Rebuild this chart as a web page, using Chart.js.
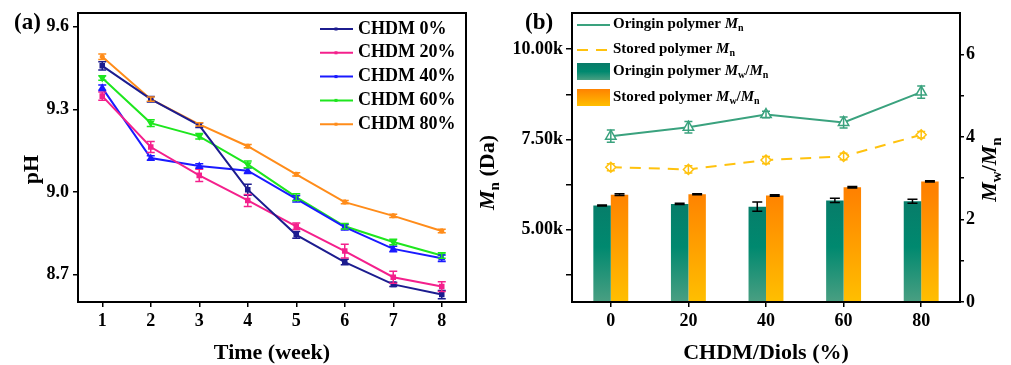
<!DOCTYPE html>
<html>
<head>
<meta charset="utf-8">
<script src="https://cdn.jsdelivr.net/npm/chart.js@4.4.0/dist/chart.umd.min.js"></script>
<style>
html, body { margin: 0; padding: 0; background: #fff; }
#wrap { position: relative; width: 1011px; height: 365px; }
#chartA { position: absolute; left: 0; top: 0; }
#chartB { position: absolute; left: 470px; top: 0; }
</style>
</head>
<body>
<div id="wrap">
  <canvas id="chartA" width="500" height="365"></canvas>
  <canvas id="chartB" width="541" height="365"></canvas>
</div>
<script>
// ---- panel (a): pH vs time ----
const weeks = ['1', '2', '3', '4', '5', '6', '7', '8'];
const phTicks = [8.7, 9.0, 9.3, 9.6];
const ph0 = [9.458, 9.337, 9.242, 9.008, 8.844, 8.745, 8.664, 8.627];
const ph20 = [9.348, 9.163, 9.060, 8.969, 8.875, 8.785, 8.690, 8.656];
const ph40 = [9.378, 9.123, 9.094, 9.077, 8.975, 8.872, 8.793, 8.759];
const ph60 = [9.414, 9.250, 9.202, 9.100, 8.981, 8.875, 8.818, 8.769];
const ph80 = [9.491, 9.337, 9.245, 9.166, 9.064, 8.963, 8.913, 8.858];
const err0 = [0.015, 0.010, 0.008, 0.020, 0.012, 0.010, 0.008, 0.015];
const err20 = [0.015, 0.020, 0.022, 0.022, 0.012, 0.025, 0.022, 0.018];
const err40 = [0.010, 0.008, 0.008, 0.010, 0.012, 0.010, 0.010, 0.012];
const err60 = [0.008, 0.012, 0.010, 0.012, 0.012, 0.010, 0.010, 0.010];
const err80 = [0.010, 0.008, 0.006, 0.006, 0.006, 0.006, 0.006, 0.006];

// ---- panel (b): molecular weight ----
const ratios = ['0', '20', '40', '60', '80'];
const mnTicks = [3750, 5000, 6250, 7500, 8750, 10000];
const pdiTicks = [0, 1, 2, 3, 4, 5, 6];
const mnOrigin = [7590, 7840, 8190, 7970, 8810];
const mnOriginErr = [170, 160, 90, 150, 170];
const mnStored = [6730, 6670, 6930, 7030, 7630];
const mnStoredErr = [100, 100, 100, 90, 90];
const pdiOrigin = [2.34, 2.376, 2.31, 2.46, 2.44];
const pdiOriginErr = [0.012, 0.015, 0.11, 0.05, 0.05];
const pdiStored = [2.60, 2.61, 2.58, 2.78, 2.92];
const pdiStoredErr = [0.02, 0.015, 0.02, 0.02, 0.015];

const SERIF = "'Liberation Serif', 'Times New Roman', serif";
const tickFont = { family: SERIF, size: 18, weight: 'bold' };

function fixSize(prop, val) {
    return function (s) {
        s[prop] = val;
        s.paddingLeft = 0; s.paddingRight = 0; s.paddingTop = 0; s.paddingBottom = 0;
    };
}

function drawRich(ctx, parts, x, y, size, align) {
    const fontOf = k => k === 'i' ? `italic bold ${size}px ${SERIF}`
        : k === 's' ? `bold ${Math.round(size * 0.68)}px ${SERIF}` : `bold ${size}px ${SERIF}`;
    let total = 0;
    parts.forEach(p => { ctx.font = fontOf(p[1]); total += ctx.measureText(p[0]).width; });
    let cx = align === 'center' ? x - total / 2 : x;
    ctx.textAlign = 'left';
    ctx.textBaseline = 'middle';
    ctx.fillStyle = '#000';
    parts.forEach(p => {
        ctx.font = fontOf(p[1]);
        ctx.fillText(p[0], cx, p[1] === 's' ? y + size * 0.32 : y);
        cx += ctx.measureText(p[0]).width;
    });
}

function drawErrors(chart) {
    const ctx = chart.ctx;
    chart.data.datasets.forEach((ds, i) => {
        if (!ds.err) return;
        const meta = chart.getDatasetMeta(i);
        const scale = chart.scales[meta.yAxisID];
        ctx.save();
        ctx.strokeStyle = ds.errColor || ds.borderColor;
        ctx.lineWidth = 1.5;
        const cap = ds.cap || 4;
        meta.data.forEach((el, j) => {
            const v = ds.data[j];
            const y1 = scale.getPixelForValue(v - ds.err[j]);
            const y2 = scale.getPixelForValue(v + ds.err[j]);
            ctx.beginPath();
            ctx.moveTo(el.x, y1); ctx.lineTo(el.x, y2);
            ctx.moveTo(el.x - cap, y1); ctx.lineTo(el.x + cap, y1);
            ctx.moveTo(el.x - cap, y2); ctx.lineTo(el.x + cap, y2);
            ctx.stroke();
        });
        ctx.restore();
    });
}

function frame(chart) {
    const a = chart.chartArea;
    const ctx = chart.ctx;
    ctx.save();
    ctx.strokeStyle = '#000';
    ctx.lineWidth = 2;
    ctx.strokeRect(a.left, a.top, a.right - a.left, a.bottom - a.top);
    ctx.restore();
}

function lineSet(label, data, err, color, style, rot) {
    return {
        label: label, data: data, err: err,
        borderColor: color, backgroundColor: color,
        borderWidth: 2, pointRadius: 2.5, pointStyle: style, pointRotation: rot || 0,
        lineTension: 0
    };
}

const axisA = {
    grid: { display: true, drawOnChartArea: false, drawTicks: true, tickLength: 5, color: '#000', lineWidth: 1.5 },
    border: { display: false },
    ticks: { color: '#000', font: tickFont }
};

new Chart(document.getElementById('chartA').getContext('2d'), {
    type: 'line',
    data: {
        labels: weeks,
        datasets: [
            lineSet('CHDM 0%', ph0, err0, '#1c1c8f', 'rect'),
            lineSet('CHDM 20%', ph20, err20, '#f4208c', 'rect'),
            lineSet('CHDM 40%', ph40, err40, '#1a1aff', 'triangle'),
            lineSet('CHDM 60%', ph60, err60, '#1ee61e', 'triangle', 180),
            lineSet('CHDM 80%', ph80, err80, '#ff8c1a', 'star')
        ]
    },
    options: {
        responsive: false,
        animation: false,
        layout: { padding: { left: 0, top: 13, right: 34, bottom: 0 } },
        plugins: { legend: { display: false }, tooltip: { enabled: false } },
        scales: {
            x: Object.assign({}, axisA, {
                offset: true,
                ticks: { color: '#000', font: tickFont, padding: 4, maxRotation: 0 },
                afterFit: fixSize('height', 63)
            }),
            y: Object.assign({}, axisA, {
                min: 8.6, max: 9.65,
                afterBuildTicks: s => { s.ticks = phTicks.map(v => ({ value: v })); },
                ticks: { color: '#000', font: tickFont, padding: 4, callback: v => v.toFixed(1) },
                afterFit: fixSize('width', 78)
            })
        }
    },
    plugins: [{
        id: 'decorA',
        afterDatasetsDraw(chart) {
            drawErrors(chart);
            frame(chart);
            const ctx = chart.ctx;
            const a = chart.chartArea;
            chart.data.datasets.forEach((ds, i) => {
                const y = 29 + i * 23.8;
                ctx.save();
                ctx.strokeStyle = ds.borderColor;
                ctx.lineWidth = 2;
                ctx.beginPath(); ctx.moveTo(320, y); ctx.lineTo(353, y); ctx.stroke();
                ctx.fillStyle = ds.borderColor;
                ctx.fillRect(334.5, y - 1.5, 3, 3);
                ctx.restore();
                drawRich(ctx, [[ds.label, 'b']], 358, y, 18);
            });
            drawRich(ctx, [['(a)', 'b']], 14, 23, 23);
            drawRich(ctx, [['Time (week)', 'b']], (a.left + a.right) / 2, 353, 22, 'center');
            ctx.save();
            ctx.translate(32, (a.top + a.bottom) / 2 + 12);
            ctx.rotate(-Math.PI / 2);
            drawRich(ctx, [['pH', 'b']], 0, 0, 22, 'center');
            ctx.restore();
        }
    }]
});

// ---- panel (b) ----
function gradientFill(chart, bottomColor, midColor, topColor) {
    const a = chart.chartArea;
    if (!a) return topColor;
    const g = chart.ctx.createLinearGradient(0, a.bottom, 0, a.bottom - 110);
    g.addColorStop(0, bottomColor);
    g.addColorStop(0.5, midColor);
    g.addColorStop(1, topColor);
    return g;
}
const greenStops = ['#4a9f82', '#00896f', '#087a68'];
const orangeStops = ['#ffbf00', '#ffa000', '#ff8200'];

const axisB = {
    grid: { display: true, drawOnChartArea: false, drawTicks: true, tickLength: 6, color: '#000', lineWidth: 1.5 },
    border: { display: false }
};

new Chart(document.getElementById('chartB').getContext('2d'), {
    type: 'bar',
    data: {
        labels: ratios,
        datasets: [
            {
                type: 'line', label: 'Oringin polymer Mn', data: mnOrigin, err: mnOriginErr, yAxisID: 'y', order: 0,
                borderColor: '#3aa27e', backgroundColor: '#fff', borderWidth: 2, lineTension: 0,
                pointStyle: 'triangle', pointRadius: 6, pointBorderWidth: 1.5, pointBackgroundColor: '#fff'
            },
            {
                type: 'line', label: 'Stored polymer Mn', data: mnStored, err: mnStoredErr, yAxisID: 'y', order: 0,
                borderColor: '#ffc20e', backgroundColor: '#fff', borderWidth: 2, borderDash: [11, 8], lineTension: 0,
                pointStyle: 'rectRot', pointRadius: 5, pointBorderWidth: 1.5, pointBackgroundColor: '#fff'
            },
            {
                label: 'Oringin polymer Mw/Mn', data: pdiOrigin, err: pdiOriginErr, errColor: '#000', cap: 5,
                yAxisID: 'y2', order: 1,
                backgroundColor: c => gradientFill(c.chart, ...greenStops)
            },
            {
                label: 'Stored polymer Mw/Mn', data: pdiStored, err: pdiStoredErr, errColor: '#000', cap: 5,
                yAxisID: 'y2', order: 1,
                backgroundColor: c => gradientFill(c.chart, ...orangeStops)
            }
        ]
    },
    options: {
        responsive: false,
        animation: false,
        categoryPercentage: 0.45,
        barPercentage: 1.0,
        layout: { padding: { left: 0, top: 13, right: 0, bottom: 0 } },
        plugins: { legend: { display: false }, tooltip: { enabled: false } },
        scales: {
            x: Object.assign({}, axisB, {
                offset: true,
                grid: Object.assign({}, axisB.grid, { offset: false, tickLength: 5 }),
                ticks: { color: '#000', font: tickFont, padding: 4, maxRotation: 0 },
                afterFit: fixSize('height', 63)
            }),
            y: Object.assign({}, axisB, {
                position: 'left',
                min: 3000, max: 11000,
                afterBuildTicks: s => { s.ticks = mnTicks.map(v => ({ value: v })); },
                ticks: {
                    color: '#000', font: tickFont, padding: 3,
                    callback: v => (v % 2500 === 0 ? (v / 1000).toFixed(2) + 'k' : '')
                },
                afterFit: fixSize('width', 102)
            }),
            y2: Object.assign({}, axisB, {
                position: 'right',
                min: 0, max: 7,
                afterBuildTicks: s => { s.ticks = pdiTicks.map(v => ({ value: v })); },
                grid: Object.assign({}, axisB.grid, { tickLength: 4 }),
                ticks: { color: '#000', font: tickFont, padding: 2, callback: v => (v % 2 === 0 ? String(v) : '') },
                afterFit: fixSize('width', 51)
            })
        }
    },
    plugins: [{
        id: 'decorB',
        afterDatasetsDraw(chart) {
            drawErrors(chart);
            frame(chart);
            const ctx = chart.ctx;
            const a = chart.chartArea;
            const ds = chart.data.datasets;
            // legend
            ctx.save();
            ctx.lineWidth = 2;
            ctx.strokeStyle = ds[0].borderColor;
            ctx.beginPath(); ctx.moveTo(107, 25); ctx.lineTo(140, 25); ctx.stroke();
            ctx.strokeStyle = ds[1].borderColor;
            ctx.setLineDash([11, 8]);
            ctx.beginPath(); ctx.moveTo(107, 50); ctx.lineTo(140, 50); ctx.stroke();
            ctx.setLineDash([]);
            [[63, greenStops], [89, orangeStops]].forEach(r => {
                const g = ctx.createLinearGradient(0, r[0] + 17, 0, r[0]);
                g.addColorStop(0, r[1][0]); g.addColorStop(0.5, r[1][1]); g.addColorStop(1, r[1][2]);
                ctx.fillStyle = g;
                ctx.fillRect(107, r[0], 33, 17);
            });
            ctx.restore();
            drawRich(ctx, [['Oringin polymer ', 'b'], ['M', 'i'], ['n', 's']], 143, 24, 15);
            drawRich(ctx, [['Stored polymer ', 'b'], ['M', 'i'], ['n', 's']], 143, 49, 15);
            drawRich(ctx, [['Oringin polymer ', 'b'], ['M', 'i'], ['w', 's'], ['/', 'b'], ['M', 'i'], ['n', 's']], 143, 71, 15);
            drawRich(ctx, [['Stored polymer ', 'b'], ['M', 'i'], ['w', 's'], ['/', 'b'], ['M', 'i'], ['n', 's']], 143, 97, 15);
            // labels and titles
            drawRich(ctx, [['(b)', 'b']], 55, 23, 23);
            drawRich(ctx, [['CHDM/Diols (%)', 'b']], (a.left + a.right) / 2, 353, 22, 'center');
            ctx.save();
            ctx.translate(18, (a.top + a.bottom) / 2 + 15);
            ctx.rotate(-Math.PI / 2);
            drawRich(ctx, [['M', 'i'], ['n', 's'], [' (Da)', 'b']], 0, 0, 22, 'center');
            ctx.restore();
            ctx.save();
            ctx.translate(520, (a.top + a.bottom) / 2 + 12);
            ctx.rotate(-Math.PI / 2);
            drawRich(ctx, [['M', 'i'], ['w', 's'], ['/', 'b'], ['M', 'i'], ['n', 's']], 0, 0, 22, 'center');
            ctx.restore();
        }
    }]
});
</script>
</body>
</html>
